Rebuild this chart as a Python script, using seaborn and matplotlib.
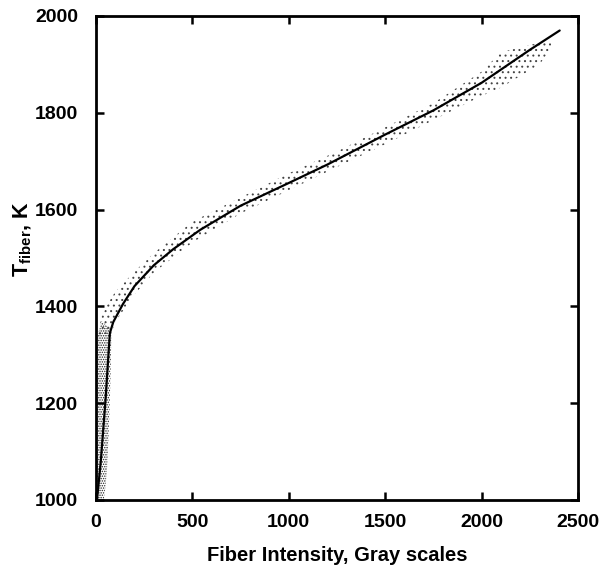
import numpy as np
import pandas as pd
import matplotlib
matplotlib.use("Agg")
import matplotlib.pyplot as plt
import seaborn as sns

# fitted calibration curve
curve_x = [5, 25, 50, 72, 90, 140, 200, 300, 400, 540, 750, 1000, 1200, 1500, 1750, 2000, 2250, 2405]
curve_t = [1000, 1080, 1210, 1345, 1368, 1405, 1442, 1485, 1518, 1558, 1608, 1655, 1693, 1755, 1805, 1862, 1930, 1970]

# outline of the dense measured cloud near the origin (x < 80)
low_x = [0, 0, 3, 8, 30, 80, 76, 68, 58, 50, 40, 0]
low_t = [1000, 1150, 1280, 1340, 1370, 1350, 1260, 1160, 1070, 1030, 1000, 1000]

# outline of the sparser measured cloud along the rest of the curve
band_x = [8, 30, 60, 100, 200, 300, 500, 750, 1000, 1250, 1500, 1750, 2000, 2100, 2300, 2360,
          2360, 2300, 2100, 2000, 1750, 1500, 1250, 1000, 750, 500, 300, 200, 100, 80]
band_t = [1340, 1380, 1405, 1430, 1472, 1510, 1575, 1625, 1675, 1720, 1770, 1820, 1885, 1925, 1945, 1945,
          1932, 1900, 1852, 1835, 1785, 1735, 1688, 1640, 1592, 1532, 1470, 1425, 1368, 1345]

x_ticks = [0, 500, 1000, 1500, 2000, 2500]
t_ticks = [1000, 1200, 1400, 1600, 1800, 2000]

sns.set_theme(style="ticks")
plt.rcParams['font.family'] = ['Liberation Sans', 'DejaVu Sans']
plt.rcParams['font.weight'] = 'bold'
plt.rcParams['text.color'] = 'black'
plt.rcParams['axes.labelcolor'] = 'black'
plt.rcParams['mathtext.fontset'] = 'custom'
plt.rcParams['mathtext.rm'] = 'Liberation Sans:bold'
plt.rcParams['mathtext.bf'] = 'Liberation Sans:bold'
plt.rcParams['hatch.linewidth'] = 0.7

fig = plt.figure(figsize=(6.06, 5.69), dpi=100)
ax = fig.add_axes([0.1584, 0.1213, 0.7954, 0.8506])

ax.fill(low_x, low_t, facecolor='none', edgecolor='#222222', hatch='.......', linewidth=0)
ax.fill(band_x, band_t, facecolor='none', edgecolor='#444444', hatch='...', linewidth=0)

df = pd.DataFrame({'x': curve_x, 't': curve_t})
sns.lineplot(data=df, x='x', y='t', sort=False, color='black', linewidth=1.6, ax=ax)

ax.set_xlim(0, 2500)
ax.set_ylim(1000, 2000)
ax.set_xticks(x_ticks)
ax.set_yticks(t_ticks)
ax.tick_params(direction='in', top=True, right=True, length=6, width=1.8,
               labelsize=14, colors='black')
ax.tick_params(axis='x', pad=10)
ax.tick_params(axis='y', pad=13)
for lab in ax.get_xticklabels() + ax.get_yticklabels():
    lab.set_fontweight('bold')
for s in ax.spines.values():
    s.set_linewidth(2)
    s.set_color('black')

ax.set_xlabel('Fiber Intensity, Gray scales', fontsize=14.5, fontweight='bold')
ax.set_ylabel(r'$\mathrm{T_{fiber}}$, K', fontsize=15.5, fontweight='bold')
ax.xaxis.set_label_coords(0.5, -0.095)
ax.yaxis.set_label_coords(-0.128, 0.54)

fig.savefig('out.png', dpi=100)
